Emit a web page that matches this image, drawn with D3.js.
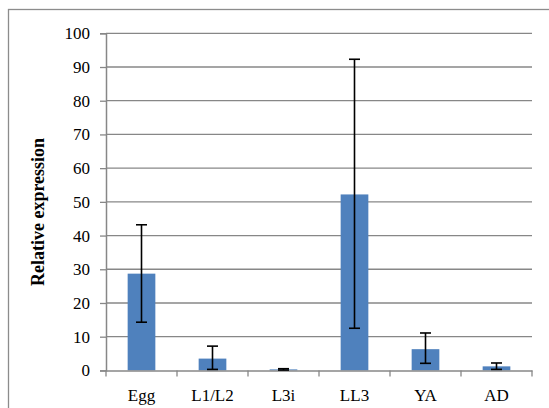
<!DOCTYPE html>
<html><head><meta charset="utf-8">
<script src="https://cdn.jsdelivr.net/npm/d3@7"></script>
<style>body{margin:0;background:#fff}svg{display:block}</style>
</head><body>
<svg id="c" width="549" height="408"></svg>
<script>
const categories = ["Egg","L1/L2","L3i","LL3","YA","AD"];
const values     = [28.7, 3.5, 0.3, 52.2, 6.3, 1.2];
const errLow     = [14.3, 0.3, 0.1, 12.5, 2.1, 0.3];
const errHigh    = [43.2, 7.2, 0.5, 92.3, 11.1, 2.2];
const yTicks     = [0,10,20,30,40,50,60,70,80,90,100];

const svg = d3.select("#c");
const m = {left:106, right:532, top:33.3, bottom:370.4};
const font = "'Liberation Serif','Times New Roman',serif";

svg.append("rect").attr("x",8.5).attr("y",9.5).attr("width",600).attr("height",450)
  .attr("fill","#fff").attr("stroke","#8c8c8c").attr("stroke-width",1.3);

const x = d3.scaleBand().domain(categories).range([m.left,m.right]).paddingInner(0.61).paddingOuter(0.305);
const xb = d3.scaleBand().domain(categories).range([m.left,m.right]);
const y = d3.scaleLinear().domain([0,100]).range([m.bottom,m.top]);

// gridlines
svg.append("g").selectAll("line").data(yTicks.filter(d=>d>0)).join("line")
  .attr("x1",m.left).attr("x2",m.right).attr("y1",d=>y(d)).attr("y2",d=>y(d))
  .attr("stroke","#878787").attr("stroke-width",1.3);

// y axis
const ya = svg.append("g").attr("transform",`translate(${m.left},0)`)
  .call(d3.axisLeft(y).tickValues(yTicks).tickSize(6).tickPadding(10));
ya.select(".domain").attr("stroke","#878787").attr("stroke-width",1.5);
ya.selectAll(".tick line").attr("stroke","#878787").attr("stroke-width",1.3);
ya.selectAll("text").attr("font-family",font).attr("font-size",17).attr("fill","#000");

// bars
svg.append("g").selectAll("rect").data(categories).join("rect")
  .attr("x",d=>x(d)).attr("width",x.bandwidth())
  .attr("y",(d,i)=>y(values[i])).attr("height",(d,i)=>y(0)-y(values[i]))
  .attr("fill","#4F81BD");

// x axis
const xa = svg.append("g").attr("transform",`translate(0,${m.bottom})`)
  .call(d3.axisBottom(xb).tickSize(0).tickPadding(18.5));
xa.select(".domain").attr("stroke","#878787").attr("stroke-width",1.5);
xa.selectAll("text").attr("font-family",font).attr("font-size",17).attr("fill","#000");
const bounds = categories.map(c=>xb(c)).concat([m.right]);
xa.append("g").selectAll("line").data(bounds).join("line")
  .attr("x1",d=>d).attr("x2",d=>d).attr("y1",0).attr("y2",6)
  .attr("stroke","#878787").attr("stroke-width",1.3);

// error bars
const eg = svg.append("g").attr("stroke","#000").attr("stroke-width",1.6);
categories.forEach((c,i)=>{
  const cx = x(c)+x.bandwidth()/2;
  eg.append("line").attr("x1",cx).attr("x2",cx).attr("y1",y(errLow[i])).attr("y2",y(errHigh[i]));
  [errLow[i],errHigh[i]].forEach(v=>{
    eg.append("line").attr("x1",cx-5.5).attr("x2",cx+5.5).attr("y1",y(v)).attr("y2",y(v));
  });
});

// y label
svg.append("text").attr("transform",`translate(43.5,212) rotate(-90)`)
  .attr("text-anchor","middle").attr("font-family",font).attr("font-size",18)
  .attr("font-weight","bold").text("Relative expression");
</script>
</body></html>
